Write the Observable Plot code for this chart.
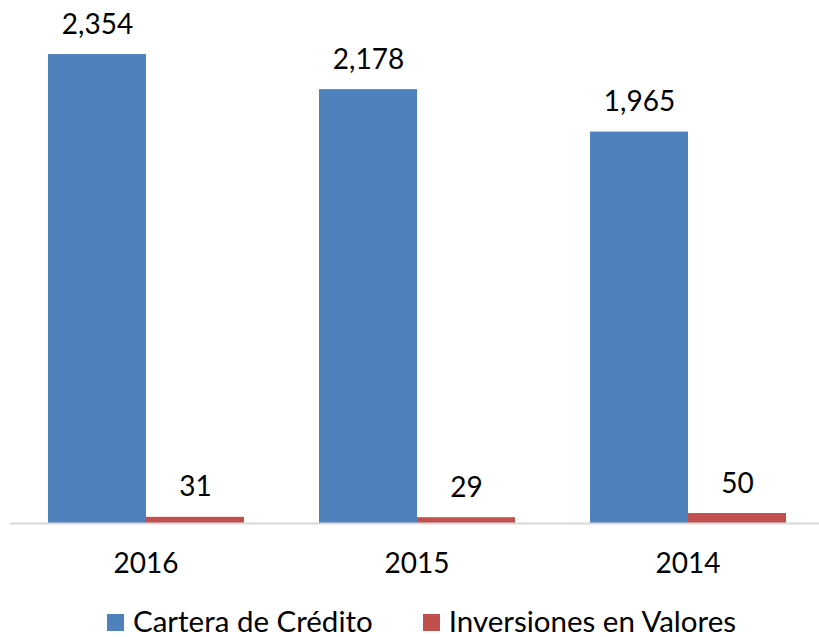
<!DOCTYPE html>
<html>
<head>
<meta charset="utf-8">
<script src="https://cdn.jsdelivr.net/npm/d3@7"></script>
<script src="https://cdn.jsdelivr.net/npm/@observablehq/plot@0.6"></script>
<style>
  html, body { margin: 0; padding: 0; background: #fff; overflow: hidden; }
  body { width: 819px; height: 637px; font-family: Lato, "Open Sans", sans-serif; }
  #legend { display: flex; justify-content: flex-start; align-items: center; font-size: 29.5px; color: #000; height: 42px; padding-left: 107px; margin-top: 4px; white-space: nowrap; }
  .item { display: flex; align-items: center; }
  .item + .item { margin-left: 50px; }
  .sw { width: 17px; height: 17px; margin-right: 9px; margin-top: 5px; }
</style>
</head>
<body>
<div id="chart"></div>
<div id="legend"></div>
<script>
const years = ["2016", "2015", "2014"];
const seriesNames = ["Cartera de Crédito", "Inversiones en Valores"];
const carteraValues = [2354, 2178, 1965];
const inversionesValues = [31, 29, 50];
const colors = ["#4F81BD", "#C0504D"];

const data = [];
years.forEach((y, i) => {
  data.push({year: y, series: seriesNames[0], value: carteraValues[i]});
  data.push({year: y, series: seriesNames[1], value: inversionesValues[i]});
});

const fmt = d3.format(",");

const chart = Plot.plot({
  width: 819,
  height: 595,
  marginLeft: 10,
  marginRight: -4,
  marginTop: 25,
  marginBottom: 72,
  style: {fontFamily: "Lato, 'Open Sans', sans-serif", fontSize: "28px", color: "#000", background: "#fff", overflow: "visible"},
  fx: {domain: years, padding: 0, label: null, tickSize: 0, tickPadding: 30},
  x: {domain: seriesNames, paddingInner: 0, paddingOuter: 0.375, axis: null},
  y: {domain: [0, 2500], axis: null},
  color: {domain: seriesNames, range: colors},
  marks: [
    Plot.barY(data, {fx: "year", x: "series", y: "value", fill: "series"}),
    Plot.ruleY([0], {stroke: "#d9d9d9", strokeWidth: 2}),
    Plot.text(data, {fx: "year", x: "series", y: "value", text: d => fmt(d.value), dy: -30, fill: "#000", fontSize: 28})
  ]
});
document.getElementById("chart").appendChild(chart);

const legend = document.getElementById("legend");
seriesNames.forEach((name, i) => {
  const item = document.createElement("div");
  item.className = "item";
  const sw = document.createElement("span");
  sw.className = "sw";
  sw.style.background = colors[i];
  const label = document.createElement("span");
  label.textContent = name;
  item.appendChild(sw);
  item.appendChild(label);
  legend.appendChild(item);
});
</script>
</body>
</html>
